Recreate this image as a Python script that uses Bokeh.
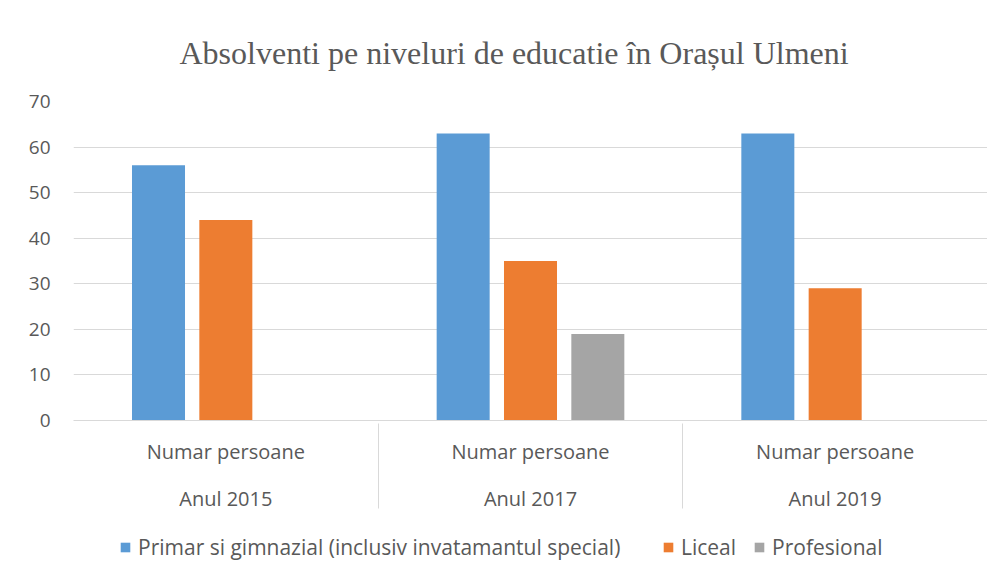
from bokeh.plotting import figure
from bokeh.models import FactorRange, Range1d, FixedTicker, ColumnDataSource, Legend, LegendItem
from bokeh.transform import dodge
from bokeh.layouts import column
from bokeh.embed import file_html
from bokeh.resources import INLINE

years = ["Anul 2015", "Anul 2017", "Anul 2019"]
measure = "Numar persoane"
series_names = ["Primar si gimnazial (inclusiv invatamantul special)", "Liceal", "Profesional"]
primar = [56, 63, 63]
liceal = [44, 35, 29]
profesional = [0, 19, 0]
colors = ["#5B9BD5", "#ED7D31", "#A5A5A5"]
y_ticks = [0, 10, 20, 30, 40, 50, 60, 70]
title_text = "Absolventi pe niveluri de educatie în Orașul Ulmeni"

factors = [(y, measure) for y in years]
FONT = "Open Sans"
TXT = "#595959"

p = figure(
    width=987, height=514,
    x_range=FactorRange(factors=factors, range_padding=0, group_padding=0, factor_padding=0),
    y_range=Range1d(0, 70),
    output_backend="svg", toolbar_location=None,
    min_border_left=73, min_border_right=0, min_border_top=101, min_border_bottom=94,
)

p.title.text = title_text
p.title.text_font = "Liberation Serif"
p.title.text_font_size = "32px"
p.title.text_font_style = "normal"
p.title.text_color = TXT
p.title.align = "left"
p.title.offset = 106
p.title.standoff = 62

p.outline_line_color = None
p.xgrid.grid_line_color = None
p.ygrid.grid_line_color = "#D9D9D9"
p.ygrid.grid_line_width = 1
p.yaxis.ticker = FixedTicker(ticks=y_ticks)
p.yaxis.axis_line_color = None
p.yaxis.major_tick_line_color = None
p.yaxis.minor_tick_line_color = None
p.yaxis.major_tick_out = 0
p.yaxis.major_label_standoff = 23
p.yaxis.major_label_text_font = FONT
p.yaxis.major_label_text_font_size = "19px"
p.yaxis.major_label_text_color = TXT

xa = p.xaxis[0]
xa.axis_line_color = "#D9D9D9"
xa.major_tick_line_color = None
xa.minor_tick_line_color = None
xa.major_tick_out = 0
xa.major_label_standoff = 17
xa.major_label_text_font = FONT
xa.major_label_text_font_size = "20px"
xa.major_label_text_color = TXT
xa.group_text_font = FONT
xa.group_text_font_size = "20px"
xa.group_text_font_style = "normal"
xa.group_text_color = TXT
xa.separator_line_color = "#D9D9D9"
xa.separator_line_width = 1

offsets = [-0.221, 0.0, 0.221]
bar_w = 0.174
for vals, off, col in zip([primar, liceal, profesional], offsets, colors):
    src = ColumnDataSource(dict(x=factors, top=vals))
    p.vbar(x=dodge("x", off, range=p.x_range), top="top", width=bar_w, bottom=0,
           source=src, fill_color=col, line_color=None)

# legend strip below the chart (its frame is aligned with the chart frame by the column)
lg = figure(width=987, height=49, x_range=Range1d(0, 1), y_range=Range1d(0, 1),
            output_backend="svg", toolbar_location=None,
            x_axis_type=None, y_axis_type=None, min_border=0)
lg.outline_line_color = None
lg.xgrid.grid_line_color = None
lg.ygrid.grid_line_color = None
items = []
for name, col in zip(series_names, colors):
    # invisible zero-height key renderer, only used to draw the legend swatch
    r = lg.vbar(x=[0.5], top=[0], bottom=[0], width=0.001, fill_color=col, line_color=None)
    items.append(LegendItem(label=name, renderers=[r]))

common = dict(orientation="horizontal", label_text_font=FONT, label_text_font_size="21px",
              label_text_color=TXT, glyph_width=12, glyph_height=12, label_standoff=7,
              border_line_color=None, background_fill_alpha=0, margin=0, padding=3)
legend_a = Legend(items=items[:1], location=(46, 2), spacing=43, **common)
legend_b = Legend(items=items[1:], location=(589, 2), spacing=17, **common)
lg.add_layout(legend_a, "center")
lg.add_layout(legend_b, "center")

layout = column(p, lg, spacing=0)
open("out.html", "w").write(file_html(layout, INLINE))
